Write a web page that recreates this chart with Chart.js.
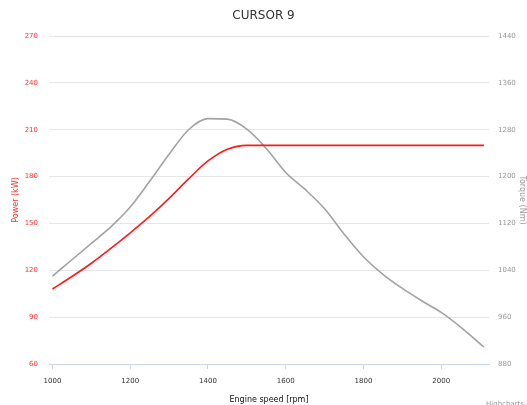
<!DOCTYPE html>
<html>
<head>
<meta charset="utf-8">
<title>CURSOR 9</title>
<script src="https://cdn.jsdelivr.net/npm/chart.js@4/dist/chart.umd.min.js"></script>
<style>
    html, body { margin: 0; padding: 0; background: #fff; }
    #wrap { width: 527px; height: 405px; }
</style>
</head>
<body>
<div id="wrap"><canvas id="engineChart" width="527" height="405"></canvas></div>
<script>
// Engine speed (rpm)
const rpm = [1000, 1050, 1100, 1150, 1200, 1250, 1300, 1350, 1400, 1450, 1500, 1550,
             1600, 1650, 1700, 1750, 1800, 1850, 1900, 1950, 2000, 2050, 2110];
// Power (kW), left axis
const power = [108, 116, 124.5, 134, 144, 154.5, 166, 178.5, 190, 197.5, 200, 200,
               200, 200, 200, 200, 200, 200, 200, 200, 200, 200, 200];
// Torque (Nm), right axis
const torque = [1030, 1058, 1086, 1114, 1148, 1192, 1238, 1280, 1299, 1298, 1281, 1248,
                1207, 1178, 1145, 1102, 1063, 1033, 1009, 988, 968, 943, 909];
const xTicks = [1000, 1200, 1400, 1600, 1800, 2000];

const toPoints = (ys) => ys.map((y, i) => ({ x: rpm[i], y: y }));
const plain = (v) => String(v);

// little credits text in the corner
const creditsPlugin = {
    id: 'credits',
    afterDraw(chart) {
        const ctx = chart.ctx;
        ctx.save();
        ctx.font = '7px "DejaVu Sans"';
        ctx.fillStyle = '#999';
        ctx.textAlign = 'left';
        ctx.textBaseline = 'alphabetic';
        ctx.fillText('Highcharts.com', 486, 406);
        ctx.restore();
    }
};

const ctx = document.getElementById('engineChart').getContext('2d');
new Chart(ctx, {
    type: 'line',
    data: {
        datasets: [{
            label: 'Power',
            data: toPoints(power),
            yAxisID: 'yPower',
            borderColor: '#ff1a1a',
            borderWidth: 1.6,
            pointRadius: 0,
            cubicInterpolationMode: 'monotone',
            fill: false
        }, {
            label: 'Torque',
            data: toPoints(torque),
            yAxisID: 'yTorque',
            borderColor: '#a3a3a3',
            borderWidth: 1.6,
            pointRadius: 0,
            cubicInterpolationMode: 'monotone',
            fill: false
        }]
    },
    options: {
        responsive: false,
        animation: false,
        layout: { padding: 0 },
        plugins: {
            legend: { display: false },
            tooltip: { enabled: false },
            title: {
                display: true,
                text: 'CURSOR 9',
                color: '#333',
                font: { family: 'DejaVu Sans', size: 12, weight: 'normal', lineHeight: 1.2 },
                padding: { top: 9, bottom: 12.6 }
            }
        },
        scales: {
            x: {
                type: 'linear',
                min: 991,
                max: 2123,
                afterBuildTicks: (scale) => { scale.ticks = xTicks.map(v => ({ value: v })); },
                afterFit: (scale) => { scale.height = 41; },
                grid: { drawOnChartArea: false, drawTicks: true, tickLength: 5, color: '#ccd6eb' },
                border: { display: true, color: '#ccd6eb' },
                ticks: {
                    callback: plain,
                    color: '#333',
                    padding: 8,
                    maxRotation: 0,
                    font: { family: 'DejaVu Sans', size: 7 }
                },
                title: {
                    display: true,
                    text: 'Engine speed [rpm]',
                    color: '#111',
                    padding: { top: 6, bottom: 0 },
                    font: { family: 'DejaVu Sans', size: 8 }
                }
            },
            yPower: {
                position: 'left',
                min: 60,
                max: 270,
                afterFit: (scale) => { scale.width = 49; },
                grid: { color: '#e6e6e6', drawTicks: false },
                border: { display: false },
                ticks: {
                    callback: plain,
                    stepSize: 30,
                    color: '#ff3333',
                    padding: 11,
                    font: { family: 'DejaVu Sans', size: 7 }
                },
                title: {
                    display: true,
                    text: 'Power (kW)',
                    color: '#ff3333',
                    padding: { top: 11, bottom: 0 },
                    font: { family: 'DejaVu Sans', size: 8 }
                }
            },
            yTorque: {
                position: 'right',
                min: 880,
                max: 1440,
                afterFit: (scale) => { scale.width = 38; },
                grid: { drawOnChartArea: false, drawTicks: false },
                border: { display: false },
                ticks: {
                    callback: plain,
                    stepSize: 80,
                    color: '#999',
                    padding: 9,
                    font: { family: 'DejaVu Sans', size: 7 }
                },
                title: {
                    display: true,
                    text: 'Torque (Nm)',
                    color: '#999',
                    padding: 0,
                    font: { family: 'DejaVu Sans', size: 8 }
                }
            }
        }
    },
    plugins: [creditsPlugin]
});
</script>
</body>
</html>
